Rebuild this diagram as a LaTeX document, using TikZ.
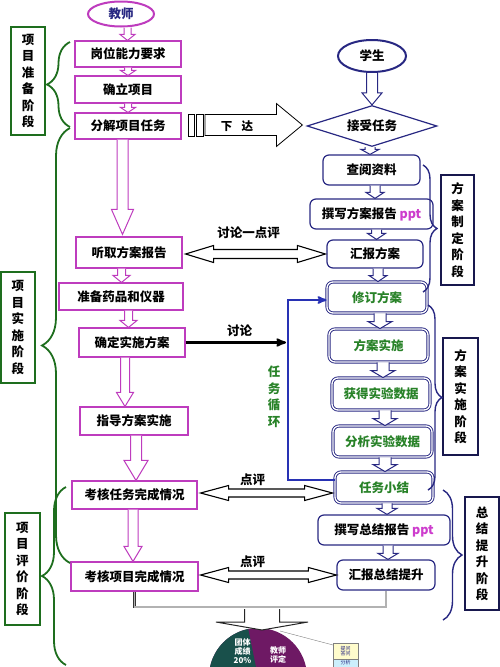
\documentclass[tikz,border=0pt]{standalone}
\usepackage{fontspec}
\setmainfont{Noto Sans CJK SC}
\usepackage{tikz}
\usetikzlibrary{positioning,arrows,calc,shapes.geometric,decorations.pathreplacing}
\definecolor{tchpurple}{RGB}{190,60,190}
\definecolor{stunavy}{RGB}{40,40,130}
\definecolor{phasegreen}{RGB}{30,110,30}
\definecolor{txtgreen}{RGB}{40,130,40}
\definecolor{pptpink}{RGB}{205,60,205}
\definecolor{loopblue}{RGB}{40,50,180}
\definecolor{pieteal}{RGB}{25,80,75}
\definecolor{piepurple}{RGB}{110,25,100}

\begin{document}
\begin{tikzpicture}[x=1pt,y=-1pt,font=\bfseries\fontsize{12.5}{16.5}\selectfont]
    \tikzset{shaftw/.store in=\shaftw, headw/.store in=\headw, headlen/.store in=\headlen,
        shaftw=5pt, headw=10pt, headlen=8pt}
    \tikzstyle{downarr}=[to path={let \p1=(\tikztostart),\p2=(\tikztotarget) in
        (\x1-\shaftw,\y1) -- (\x1-\shaftw,\y2+\headlen) -- (\x1-\headw,\y2+\headlen) -- (\x1,\y2)
        -- (\x1+\headw,\y2+\headlen) -- (\x1+\shaftw,\y2+\headlen) -- (\x1+\shaftw,\y1)}]
    \tikzstyle{bigright}=[to path={let \p1=(\tikztostart),\p2=(\tikztotarget) in
        (\x1,\y1+\shaftw) -- (\x2-\headlen,\y1+\shaftw) -- (\x2-\headlen,\y1+\headw) -- (\x2,\y1)
        -- (\x2-\headlen,\y1-\headw) -- (\x2-\headlen,\y1-\shaftw) -- (\x1,\y1-\shaftw) -- cycle}]
    \tikzstyle{twoway}=[draw=black, fill=white, line width=1.1pt, to path={let \p1=(\tikztostart),\p2=(\tikztotarget) in
        (\x1,\y1) -- (\x1+\headlen,\y1+\headw) -- (\x1+\headlen,\y1+\shaftw) -- (\x2-\headlen,\y1+\shaftw)
        -- (\x2-\headlen,\y1+\headw) -- (\x2,\y1) -- (\x2-\headlen,\y1-\headw) -- (\x2-\headlen,\y1-\shaftw)
        -- (\x1+\headlen,\y1-\shaftw) -- (\x1+\headlen,\y1-\headw) -- cycle}]
    \tikzstyle{tch}=[draw=tchpurple, line width=1.1pt, inner sep=0pt, fill=white]
    \tikzstyle{stu}=[draw=stunavy, line width=1.2pt, inner sep=0pt, fill=white]
    \tikzstyle{stubox}=[stu, rounded corners=6pt]
    \tikzstyle{loopbox}=[draw=stunavy, double=white, double distance=1.3pt, line width=0.9pt,
        rounded corners=6pt, inner sep=0pt, fill=white, text=txtgreen]
    \tikzstyle{greenphase}=[draw=phasegreen, line width=1.3pt, inner sep=0pt, align=center]
    \tikzstyle{navyphase}=[draw=stunavy!60!black, line width=1.3pt, inner sep=0pt, align=center]
    \tikzstyle{tcharr}=[draw=tchpurple, fill=white, line width=1pt, downarr]
    \tikzstyle{stuarr}=[draw=stunavy, fill=white, line width=1pt, downarr]
    \tikzstyle{greenbrace}=[draw=phasegreen, line width=1.8pt, decorate]
    \tikzstyle{navybrace}=[draw=stunavy, line width=1.4pt, decorate]
    \tikzstyle{pietext}=[text=white, align=center, inner sep=0pt, font=\bfseries\fontsize{8}{9}\selectfont]

    \useasboundingbox (0,0) rectangle (500,667);
    \clip (0,0) rectangle (500,667);

    \node[tch,ellipse,line width=2pt,minimum width=66pt,minimum height=25pt,text=stunavy] (teacher) at (121,14) {教师};
    \node[tch,minimum width=106pt,minimum height=26pt] (post) at (128,54) {岗位能力要求};
    \node[tch,minimum width=106pt,minimum height=27pt] (setup) at (128,89.5) {确立项目};
    \node[tch,minimum width=106pt,minimum height=26pt] (split) at (128,126) {分解项目任务};
    \node[tch,minimum width=106pt,minimum height=31pt] (listen) at (129,252.5) {听取方案报告};
    \node[tch,minimum width=124pt,minimum height=27pt] (prepare) at (121,296.5) {准备药品和仪器};
    \node[tch,minimum width=106pt,minimum height=29pt] (decide) at (132,342.5) {确定实施方案};
    \node[tch,minimum width=108pt,minimum height=28pt] (guide) at (134,421) {指导方案实施};
    \node[tch,minimum width=125pt,minimum height=28pt] (checktask) at (134.5,495) {考核任务完成情况};
    \node[tch,minimum width=127pt,minimum height=29pt] (checkproj) at (134.5,576.5) {考核项目完成情况};

    \node[stu,ellipse,line width=2pt,minimum width=68pt,minimum height=32pt] (student) at (372,56) {学生};
    \node[stu,diamond,aspect=3.2,minimum width=130pt,minimum height=41pt] (accept) at (372,126) {接受任务};
    \node[stubox,minimum width=97pt,minimum height=30pt] (lookup) at (371.5,170) {查阅资料};
    \node[stubox,minimum width=123pt,minimum height=30pt] (write) at (371.5,214) {撰写方案报告 \textcolor{pptpink}{ppt}};
    \node[stubox,minimum width=96pt,minimum height=28pt] (report) at (375,254) {汇报方案};
    \node[loopbox,minimum width=100pt,minimum height=31pt] (revise) at (377,297.5) {修订方案};
    \node[loopbox,minimum width=99pt,minimum height=33pt] (implement) at (378.5,345.5) {方案实施};
    \node[loopbox,minimum width=98pt,minimum height=32pt] (obtain) at (381,394) {获得实验数据};
    \node[loopbox,minimum width=99pt,minimum height=31pt] (analyze) at (382.5,441.5) {分析实验数据};
    \node[loopbox,minimum width=98pt,minimum height=31pt] (summary) at (384,487.5) {任务小结};
    \node[stubox,minimum width=132pt,minimum height=30pt] (writesum) at (384,530) {撰写总结报告 \textcolor{pptpink}{ppt}};
    \node[stubox,minimum width=98pt,minimum height=30pt] (reportsum) at (386,575) {汇报总结提升};

    \node[greenphase,minimum width=34pt,minimum height=108pt] (prepstage) at (28,81) {项\\目\\准\\备\\阶\\段};
    \node[greenphase,minimum width=34pt,minimum height=111pt] (implstage) at (18,327.5) {项\\目\\实\\施\\阶\\段};
    \node[greenphase,minimum width=35pt,minimum height=112pt] (evalstage) at (22.5,569) {项\\目\\评\\价\\阶\\段};
    \node[navyphase,minimum width=33pt,minimum height=110pt] (planstage) at (457.5,230) {方\\案\\制\\定\\阶\\段};
    \node[navyphase,minimum width=35pt,minimum height=117pt] (dostage) at (460.5,396.5) {方\\案\\实\\施\\阶\\段};
    \node[navyphase,minimum width=34pt,minimum height=113pt] (sumstage) at (482,553.5) {总\\结\\提\\升\\阶\\段};

    \draw[greenbrace,decoration={brace,amplitude=23pt}] (70,127) -- (70,42);
    \draw[greenbrace,decoration={brace,amplitude=28pt}] (70,563) -- (70,128);
    \draw[greenbrace,decoration={brace,amplitude=24pt}] (66,665) -- (66,487);
    \draw[navybrace,decoration={brace,amplitude=14pt}] (423,165) -- (423,292);
    \draw[navybrace,decoration={brace,amplitude=14pt}] (428,305) -- (428,490);
    \draw[navybrace,decoration={brace,amplitude=19pt}] (443,490) -- (443,620);

    \draw[tcharr,shaftw=3.5pt,headw=7.5pt,headlen=6pt] ([xshift=6.5pt]teacher.south) to (post.north);
    \draw[tcharr,shaftw=3.5pt,headw=7.5pt,headlen=5pt] (post.south) to (setup.north);
    \draw[tcharr,shaftw=3.5pt,headw=7.5pt,headlen=5pt] (setup.south) to (split.north);
    \draw[tcharr,shaftw=5.5pt,headw=11pt,headlen=25pt] ([xshift=-5.5pt]split.south) to ([yshift=2pt]listen.north);
    \draw[tcharr,shaftw=4pt,headw=8.5pt,headlen=7pt] ([xshift=-7.5pt]listen.south) to (prepare.north);
    \draw[tcharr,shaftw=4pt,headw=8.5pt,headlen=7pt] ([xshift=7.5pt]prepare.south) to (decide.north);
    \draw[tcharr,shaftw=4.5pt,headw=8.5pt,headlen=14pt] ([xshift=-7pt]decide.south) to (guide.north);
    \draw[tcharr,shaftw=5.5pt,headw=12pt,headlen=20pt] ([xshift=2pt]guide.south) to (checktask.north);
    \draw[tcharr,shaftw=5pt,headw=9pt,headlen=15pt] ([xshift=-1.5pt]checktask.south) to (checkproj.north);

    \draw[stuarr,shaftw=5.5pt,headw=10pt,headlen=12pt] (student.south) to (accept.north);
    \draw[stuarr,shaftw=5pt,headw=9pt,headlen=5pt] ([xshift=-2pt]accept.south) to (lookup.north);
    \draw[stuarr,shaftw=5pt,headw=9pt,headlen=6pt] ([xshift=3.5pt]lookup.south) to (write.north);
    \draw[stuarr,shaftw=5pt,headw=9pt,headlen=6pt] ([xshift=5pt]write.south) to (report.north);
    \draw[stuarr,shaftw=5pt,headw=9pt,headlen=6pt] ([xshift=3pt]report.south) to (revise.north);
    \draw[stuarr,shaftw=6pt,headw=12pt,headlen=7pt] ([xshift=3pt]revise.south) to (implement.north);
    \draw[stuarr,shaftw=6pt,headw=12pt,headlen=7pt] ([xshift=4.5pt]implement.south) to (obtain.north);
    \draw[stuarr,shaftw=6pt,headw=12pt,headlen=7pt] ([xshift=4pt]obtain.south) to (analyze.north);
    \draw[stuarr,shaftw=6pt,headw=12pt,headlen=7pt] ([xshift=2.5pt]analyze.south) to (summary.north);
    \draw[stuarr,shaftw=5pt,headw=10pt,headlen=6pt] ([xshift=3pt]summary.south) to (writesum.north);
    \draw[stuarr,shaftw=5pt,headw=10pt,headlen=6pt] ([xshift=4pt]writesum.south) to (reportsum.north);

    \draw[thick] (188,114) rectangle (194,136);
    \draw[thick] (196,114) rectangle (203,136);
    \coordinate (xiada) at (205,125);
    \draw[thick,fill=white,bigright,shaftw=10.5pt,headw=21.5pt,headlen=26pt] (xiada) to ([xshift=-4pt]accept.west);
    \node[font=\bfseries\fontsize{11.5}{12}\selectfont] (xiadatext) at (237,126) {下\hspace{0.8em}达};

    \draw[twoway,shaftw=4.5pt,headw=8.5pt,headlen=28pt] ([xshift=3pt,yshift=-1.5pt]listen.east) to ([xshift=-1pt]report.west);
    \node (discussone) at (248.5,233) {讨论一点评};
    \draw[twoway,shaftw=4pt,headw=7.5pt,headlen=28pt] ([xshift=3pt,yshift=2pt]checktask.east) to ([xshift=-2pt]summary.west);
    \node (reviewone) at (252.5,480) {点评};
    \draw[twoway,shaftw=4pt,headw=7.5pt,headlen=28pt] ([xshift=2pt,yshift=1.5pt]checkproj.east) to (reportsum.west);
    \node (reviewtwo) at (252.5,562) {点评};

    \coordinate (discusstip) at (286,342.5);
    \draw[line width=2.2pt,-stealth'] (decide.east) -- (discusstip);
    \node (discusstwo) at (239.5,331) {讨论};

    \coordinate (loopcornerb) at (288,480);
    \coordinate (loopcornert) at (288,300);
    \draw[loopblue,line width=2pt,-stealth'] ([yshift=7.5pt]summary.west) -- (loopcornerb) -- (loopcornert) -- (revise.west |- loopcornert);
    \node[text=txtgreen,align=center] (looplabel) at (274,397) {任\\务\\循\\环};

    \coordinate (piecenter) at (258,677);
    \coordinate (pietop) at (262,630);
    \begin{scope}[shift={(piecenter)},y=1pt]
        \fill[piepurple] (0,0) circle[radius=49];
        \fill[pieteal] (0,0) -- (101.5:49) arc[start angle=101.5,end angle=173.5,radius=49] -- cycle;
    \end{scope}
    \node[pietext] (teamscore) at (242.5,651.5) {团体\\成绩\\20\%};
    \node[pietext] (teachscore) at (278,655) {教师\\评定};
    \draw[gray] (280,631) -- (333,645);
    \node[draw=gray,fill=yellow!20,minimum width=25pt,minimum height=16pt,inner sep=0pt,align=center,
        text=stunavy,font=\fontsize{5}{5.5}\selectfont] (askbox) at (345.5,651) {提问\\答问};
    \node[draw=gray,fill=cyan!20,anchor=north,minimum width=25pt,inner xsep=0pt,inner ysep=1.2pt,text depth=10pt,
        text=stunavy,font=\fontsize{5}{5.5}\selectfont] (analysebox) at (345.5,659) {分析};

    \coordinate (merge) at (262,607);
    \draw[gray!40!black,double=gray!60,double distance=1.2pt,line width=0.8pt]
        (checkproj.south) -- (checkproj.south |- merge) -- (reportsum.south |- merge) -- (reportsum.south);
    \draw[draw=gray!30!black,fill=white,line width=1pt,downarr,shaftw=17.5pt,headw=46pt,headlen=8pt]
        ([yshift=-2pt]merge) to (pietop);
\end{tikzpicture}
\end{document}
